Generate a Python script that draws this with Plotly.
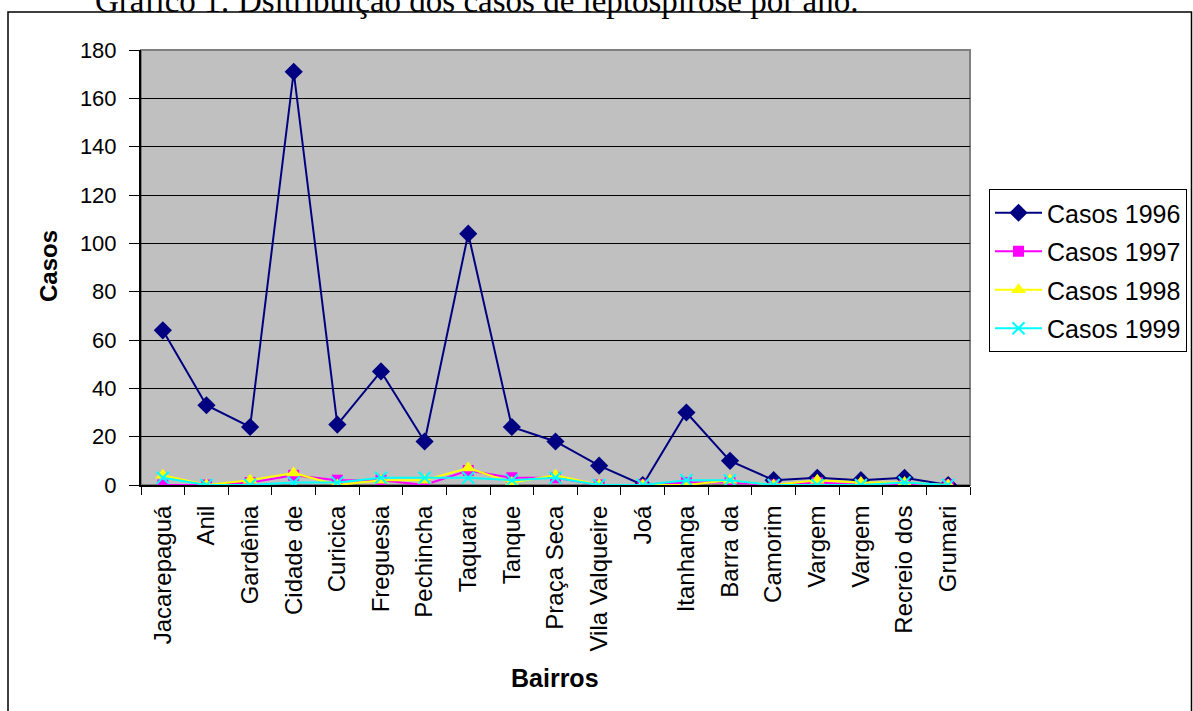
import plotly.graph_objects as go

bairros = ["Jacarepaguá", "Anil", "Gardênia", "Cidade de", "Curicica", "Freguesia",
           "Pechincha", "Taquara", "Tanque", "Praça Seca", "Vila Valqueire", "Joá",
           "Itanhanga", "Barra da", "Camorim", "Vargem", "Vargem", "Recreio dos", "Grumari"]
casos_1996 = [64, 33, 24, 171, 25, 47, 18, 104, 24, 18, 8, 0, 30, 10, 2, 3, 2, 3, 0]
casos_1997 = [0, 0, 1, 4, 2, 2, 0, 6, 3, 3, 0, 0, 1, 1, 0, 1, 0, 0, 0]
casos_1998 = [4, 0, 2, 5, 0, 2, 2, 7, 1, 4, 0, 0, 0, 2, 0, 2, 1, 1, 0]
casos_1999 = [3, 0, 0, 1, 1, 3, 3, 3, 2, 3, 0, 0, 2, 2, 0, 0, 0, 1, 0]
y_ticks = [0, 20, 40, 60, 80, 100, 120, 140, 160, 180]

idx = list(range(len(bairros)))

series = [
    ("Casos 1996", casos_1996, "#000080", "diamond", 14),
    ("Casos 1997", casos_1997, "#FF00FF", "square", 11),
    ("Casos 1998", casos_1998, "#FFFF00", "triangle-up", 13),
    ("Casos 1999", casos_1999, "#00FFFF", "x-thin", 12),
]

fig = go.Figure()
for name, vals, color, sym, size in series:
    marker = dict(symbol=sym, size=size, color=color)
    if sym == "x-thin":
        marker["line"] = dict(color=color, width=2)
    else:
        marker["line"] = dict(width=0)
    fig.add_trace(go.Scatter(
        x=idx, y=vals, name=name, mode="lines+markers", legendgroup=name,
        line=dict(color=color, width=2), marker=marker,
    ))

L, R, T, B = 141, 223, 50, 226
W, H = 1193, 711
pw, ph = W - L - R, H - T - B

def px(xp):
    return (xp - L) / pw

def py(yp):
    return (T + ph - yp) / ph

fig.update_layout(
    width=W, height=H,
    margin=dict(l=L, r=R, t=T, b=B, pad=0, autoexpand=False),
    paper_bgcolor="white",
    plot_bgcolor="#C0C0C0",
    font=dict(family="Liberation Sans, Arial, sans-serif", color="black"),
    showlegend=True,
    legend=dict(
        x=px(989), y=py(189), xanchor="left", yanchor="top",
        bgcolor="white", bordercolor="black", borderwidth=1,
        itemwidth=47, tracegroupgap=3,
        font=dict(size=25, family="Liberation Sans, Arial, sans-serif", color="black"),
    ),
    xaxis=dict(
        range=[-0.5, len(bairros) - 0.5],
        tickmode="array", tickvals=idx, ticktext=bairros,
        tickangle=-90, ticks="", ticklabelstandoff=9,
        tickfont=dict(size=24),
        minor=dict(tick0=0.5, dtick=1, ticks="outside", ticklen=8,
                   tickcolor="black", tickwidth=1, showgrid=False),
        showgrid=False, zeroline=False,
        showline=True, linecolor="black", linewidth=2,
    ),
    yaxis=dict(
        range=[0, 180], tickmode="array", tickvals=y_ticks,
        ticks="outside", ticklen=10, tickcolor="black", tickwidth=1,
        ticklabelstandoff=8,
        tickfont=dict(size=22),
        showgrid=True, gridcolor="black", gridwidth=1,
        zeroline=False,
        showline=True, linecolor="black", linewidth=2,
    ),
    shapes=[
        dict(type="rect", xref="paper", yref="paper", x0=0, x1=1, y0=0, y1=1,
             line=dict(color="#808080", width=2), layer="below"),
        dict(type="rect", xref="paper", yref="paper",
             x0=px(8), x1=px(1191.5), y0=py(740), y1=py(12),
             line=dict(color="black", width=1.5), layer="below"),
    ],
    annotations=[
        dict(text="Gráfico 1: Dsitribuição dos casos de leptospirose por ano.",
             xref="paper", yref="paper", x=px(93), y=py(1),
             xanchor="left", yanchor="middle", showarrow=False,
             font=dict(family="Liberation Serif, Times New Roman, serif", size=33, color="black")),
        dict(text="<b>Bairros</b>", xref="paper", yref="paper",
             x=px(555), y=py(678), xanchor="center", yanchor="middle", showarrow=False,
             font=dict(size=25, color="black")),
        dict(text="<b>Casos</b>", xref="paper", yref="paper",
             x=px(48), y=py(266), xanchor="center", yanchor="middle", showarrow=False,
             textangle=-90, font=dict(size=24, color="black")),
    ],
)

fig.write_html("out.html")
